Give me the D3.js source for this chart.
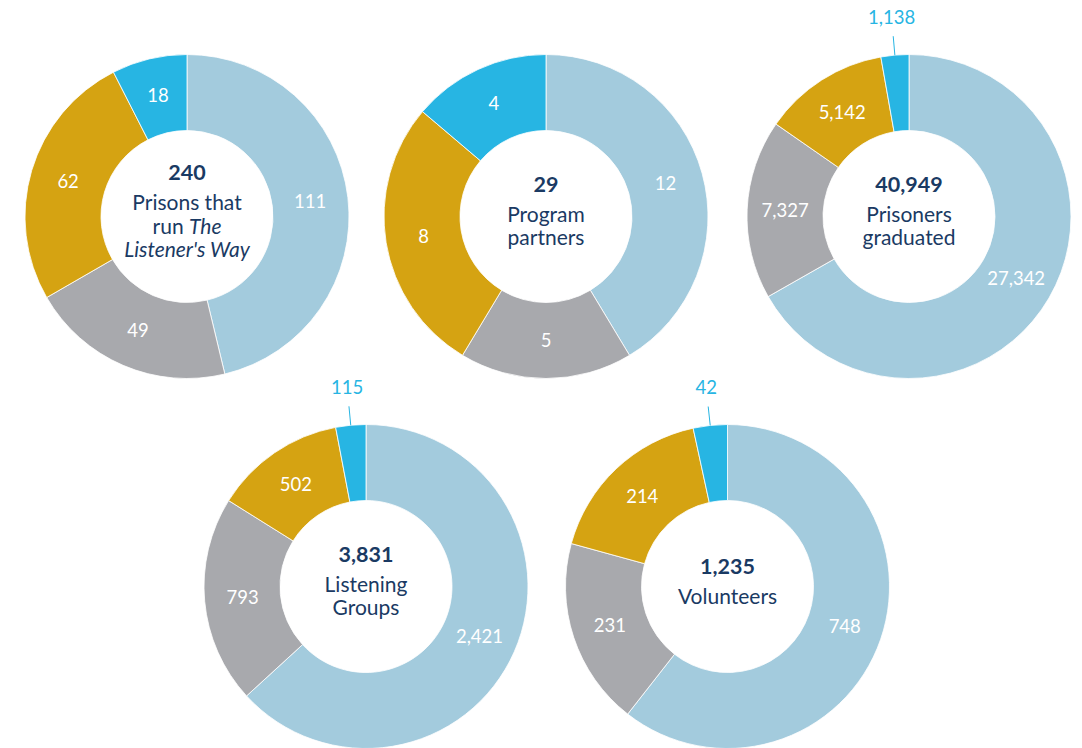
<!DOCTYPE html>
<html>
<head>
<meta charset="utf-8">
<script src="https://cdn.jsdelivr.net/npm/d3@7"></script>
<style>
  body { margin: 0; background: #fff; }
  svg { display: block; }
</style>
</head>
<body>
<div id="chart"></div>
<script>
// one entry per donut, same order everywhere
const captions = [
  ["Prisons that", "run *The*", "*Listener's Way*"],
  ["Program", "partners"],
  ["Prisoners", "graduated"],
  ["Listening", "Groups"],
  ["Volunteers"]
];
const lightBlue = [111, 12, 27342, 2421, 748];
const grey      = [49, 5, 7327, 793, 231];
const gold      = [62, 8, 5142, 502, 214];
const cyan      = [18, 4, 1138, 115, 42];
const sliceColors = ["#a3cbdd", "#a8a9ad", "#d5a312", "#27b5e3"];

const width = 1082, height = 748;
const outerR = 162, innerR = 86;
const navy = "#1a3a63";
const font = "Lato, 'Open Sans', sans-serif";
// donut centres, 3 on top and 2 below
const centres = [[187, 216.5], [546, 216.5], [909, 216.5], [366, 586.5], [727.5, 586.5]];

const fmt = d3.format(",");
const svg = d3.select("#chart").append("svg")
  .attr("width", width).attr("height", height);

const pie = d3.pie().sort(null).value(d => d);
const arc = d3.arc().innerRadius(innerR).outerRadius(outerR);

captions.forEach((lines, i) => {
  const values = [lightBlue[i], grey[i], gold[i], cyan[i]];
  const arcs = pie(values);
  const g = svg.append("g").attr("transform", `translate(${centres[i][0]},${centres[i][1]})`);

  g.selectAll("path.slice")
    .data(arcs)
    .enter().append("path")
      .attr("class", "slice")
      .attr("d", arc)
      .attr("fill", (d, j) => sliceColors[j])
      .attr("stroke", "#fff")
      .attr("stroke-width", 0.8);

  // labels: inside for wide slices, outside with a leader line for thin ones
  arcs.forEach((d, j) => {
    const span = d.endAngle - d.startAngle;
    if (span > 0.3) {
      const c = arc.centroid(d);
      g.append("text")
        .attr("x", c[0]).attr("y", c[1])
        .attr("dy", "0.35em")
        .attr("text-anchor", "middle")
        .attr("font-family", font)
        .attr("font-size", "18.5px")
        .attr("fill", "#fff")
        .text(fmt(d.value));
    } else {
      const a = (d.startAngle + d.endAngle) / 2;
      const pt = r => [Math.sin(a) * r, -Math.cos(a) * r];
      const p0 = pt(outerR), p1 = pt(outerR + 19), p2 = pt(outerR + 38);
      g.append("line")
        .attr("x1", p0[0]).attr("y1", p0[1])
        .attr("x2", p1[0]).attr("y2", p1[1])
        .attr("stroke", sliceColors[j])
        .attr("stroke-width", 1);
      g.append("text")
        .attr("x", p2[0]).attr("y", p2[1])
        .attr("dy", "0.35em")
        .attr("text-anchor", "middle")
        .attr("font-family", font)
        .attr("font-size", "18.5px")
        .attr("fill", sliceColors[j])
        .text(fmt(d.value));
    }
  });

  // centre text: total in bold, caption lines below
  const gap = 30, lh = 23.5;
  const top = -(gap + lh * (lines.length - 1)) / 2 + 2;
  g.append("text")
    .attr("x", 0).attr("y", top)
    .attr("text-anchor", "middle")
    .attr("font-family", font)
    .attr("font-weight", "bold")
    .attr("font-size", "21.5px")
    .attr("fill", navy)
    .text(fmt(d3.sum(values)));
  lines.forEach((line, k) => {
    const t = g.append("text")
      .attr("x", 0).attr("y", top + gap + lh * k)
      .attr("text-anchor", "middle")
      .attr("font-family", font)
      .attr("font-size", "21px")
      .attr("fill", navy);
    line.split("*").forEach((part, m) => {
      if (!part) return;
      t.append("tspan")
        .attr("font-style", m % 2 ? "italic" : "normal")
        .text(part);
    });
  });
});
</script>
</body>
</html>
